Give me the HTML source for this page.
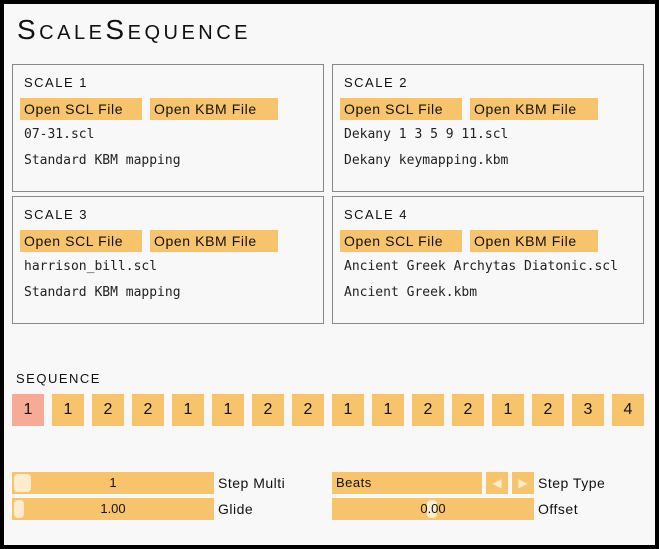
<!DOCTYPE html>
<html><head><style>
*{margin:0;padding:0;box-sizing:border-box}
body{width:659px;height:549px;background:#000;position:relative;overflow:hidden;font-family:"Liberation Sans",sans-serif;color:#111}
#in{position:absolute;left:4px;top:4px;width:651px;height:541px;background:#f8f8f8}
.a{position:absolute}
.panel{position:absolute;border:1px solid #888;width:312px;height:128px}
.h{position:absolute;left:11px;top:10px;font-size:13px;letter-spacing:1.5px}
.btn{position:absolute;top:33px;height:22px;background:#f7c46c;font-size:14px;line-height:22px;padding:0 4px;letter-spacing:0.6px;white-space:nowrap}
.m{position:absolute;left:11px;font-family:"DejaVu Sans Mono",monospace;font-size:13px;color:#222}
.sq{position:absolute;top:394px;width:32px;height:32px;background:#f7c46c;text-align:center;line-height:32px;font-size:16px}
.bar{position:absolute;height:22px;background:#f7c46c;font-size:13px;line-height:22px;text-align:center}
.lab{position:absolute;font-size:14px;line-height:22px;letter-spacing:0.5px}
.kn{position:absolute;background:#fdecd0;border-radius:4px}
</style></head><body><div id="in"></div>
<div class="a" style="left:17px;top:14px;font-size:28px;font-variant:small-caps;letter-spacing:3.5px">ScaleSequence</div>

<div class="panel" style="left:12px;top:64px"><div class="h">SCALE 1</div><div class="btn" style="left:7px;width:122px">Open SCL File</div><div class="btn" style="left:137px;width:128px">Open KBM File</div><div class="m" style="top:62px">07-31.scl</div><div class="m" style="top:88px">Standard KBM mapping</div></div>
<div class="panel" style="left:332px;top:64px"><div class="h">SCALE 2</div><div class="btn" style="left:7px;width:122px">Open SCL File</div><div class="btn" style="left:137px;width:128px">Open KBM File</div><div class="m" style="top:62px">Dekany 1 3 5 9 11.scl</div><div class="m" style="top:88px">Dekany keymapping.kbm</div></div>
<div class="panel" style="left:12px;top:196px"><div class="h">SCALE 3</div><div class="btn" style="left:7px;width:122px">Open SCL File</div><div class="btn" style="left:137px;width:128px">Open KBM File</div><div class="m" style="top:62px">harrison_bill.scl</div><div class="m" style="top:88px">Standard KBM mapping</div></div>
<div class="panel" style="left:332px;top:196px"><div class="h">SCALE 4</div><div class="btn" style="left:7px;width:122px">Open SCL File</div><div class="btn" style="left:137px;width:128px">Open KBM File</div><div class="m" style="top:62px">Ancient Greek Archytas Diatonic.scl</div><div class="m" style="top:88px">Ancient Greek.kbm</div></div>

<div class="a" style="left:16px;top:371px;font-size:13px;letter-spacing:1.5px">SEQUENCE</div>
<div class="sq" style="left:12px;background:#f7ab96">1</div>
<div class="sq" style="left:52px">1</div><div class="sq" style="left:92px">2</div><div class="sq" style="left:132px">2</div>
<div class="sq" style="left:172px">1</div><div class="sq" style="left:212px">1</div><div class="sq" style="left:252px">2</div><div class="sq" style="left:292px">2</div>
<div class="sq" style="left:332px">1</div><div class="sq" style="left:372px">1</div><div class="sq" style="left:412px">2</div><div class="sq" style="left:452px">2</div>
<div class="sq" style="left:492px">1</div><div class="sq" style="left:532px">2</div><div class="sq" style="left:572px">3</div><div class="sq" style="left:612px">4</div>

<div class="bar" style="left:12px;top:472px;width:202px">1</div><div class="kn" style="left:14px;top:474px;width:17px;height:18px"></div>
<div class="lab" style="left:218px;top:472px">Step Multi</div>
<div class="bar" style="left:12px;top:498px;width:202px">1.00</div><div class="kn" style="left:14px;top:500px;width:10px;height:18px"></div>
<div class="lab" style="left:218px;top:498px">Glide</div>
<div class="bar" style="left:332px;top:472px;width:150px;text-align:left;padding-left:4px;letter-spacing:0.5px">Beats</div>
<div class="bar" style="left:486px;top:472px;width:22px;color:#fdecd0;font-size:12px">◀</div>
<div class="bar" style="left:512px;top:472px;width:22px;color:#fdecd0;font-size:12px">▶</div>
<div class="lab" style="left:538px;top:472px">Step Type</div>
<div class="bar" style="left:332px;top:498px;width:202px"></div><div class="kn" style="left:427px;top:500px;width:10px;height:18px"></div>
<div class="bar" style="left:332px;top:498px;width:202px;background:none">0.00</div>
<div class="lab" style="left:538px;top:498px">Offset</div>
</body></html>
